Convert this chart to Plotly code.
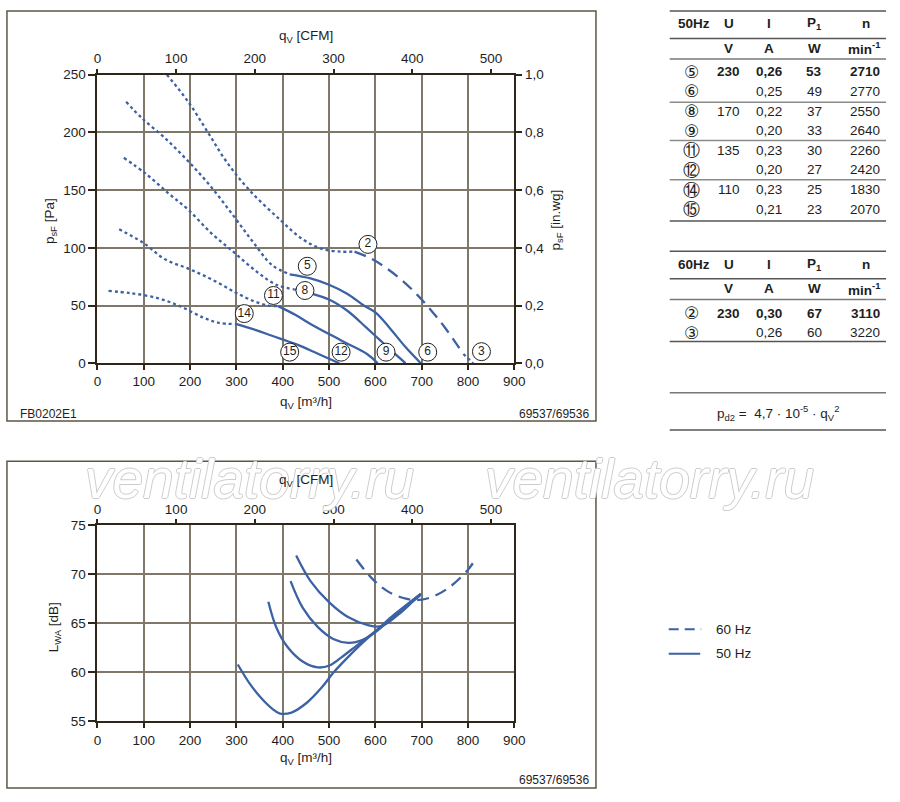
import plotly.graph_objects as go

# ---- air performance, q in m3/h, p in Pa ----
c5_dot_q = [62, 97, 146, 196, 245, 295, 336, 377, 415]
c5_dot_p = [226.5, 212, 195, 175, 153, 127, 105, 85, 77]
c5_q = [415, 460, 500, 540, 575, 600, 630, 665, 698]
c5_p = [77, 73.5, 68, 60, 50, 44, 31, 14, 0]

c8_dot_q = [57, 105, 154, 196, 245, 295, 345, 386, 425]
c8_dot_p = [178, 164, 147, 133, 113, 96, 79, 68, 64]
c8_q = [425, 460, 501, 541, 580, 610, 640, 665]
c8_p = [64, 60.7, 55, 45, 31, 20, 9, 0]

c11_dot_q = [47, 98, 146, 196, 245, 295, 336, 369, 390]
c11_dot_p = [116, 104.6, 90, 82, 73, 62, 54, 50, 49.5]
c11_q = [390, 427, 460, 501, 541, 582, 605]
c11_p = [49.5, 42, 34, 25, 16.7, 8, 0]

c14_dot_q = [24, 72, 130, 179, 229, 262, 298]
c14_dot_p = [62.6, 60.7, 56.4, 49.3, 39.4, 35, 34]
c14_q = [298, 336, 377, 427, 476, 522]
c14_p = [34, 29.5, 23.8, 16.7, 8.2, 0]

c2_dot_q = [150, 196, 237, 278, 328, 394, 443, 485, 526, 555]
c2_dot_p = [250, 226.5, 201, 175, 150, 124.4, 107.4, 99, 96.7, 96.7]
c2_q = [555, 592, 625, 660, 691, 720, 750, 790]
c2_p = [96.7, 90.4, 82, 71, 59, 46, 31, 8]
c2_end_q = [790, 811]
c2_end_p = [8, 0]

label_q = [584, 829, 453, 713, 448, 623, 380, 526, 317, 415]
label_p = [103, 10, 84, 9.6, 63, 9.6, 58.7, 9.6, 43, 9.6]
label_txt = ["2", "3", "5", "6", "8", "9", "11", "12", "14", "15"]

# ---- sound power, q in m3/h, LWA in dB ----
n5_q = [429, 460, 501, 542, 584, 613, 650, 683, 698]
n5_l = [71.9, 69.3, 67.1, 65.6, 64.8, 64.7, 65.9, 67.3, 67.9]
n8_q = [417, 443, 476, 509, 542, 567, 600, 641, 698]
n8_l = [69.3, 66.6, 64.6, 63.4, 63.0, 63.2, 64.1, 65.8, 68.0]
n11_q = [369, 386, 410, 443, 476, 501, 526, 559, 600, 641, 698]
n11_l = [67.2, 64.6, 62.6, 61.1, 60.5, 60.7, 61.5, 62.7, 64.2, 65.9, 68.0]
n14_q = [303, 328, 353, 377, 394, 419, 452, 485, 510, 542, 584, 625, 658, 698]
n14_l = [60.8, 58.9, 57.4, 56.3, 55.8, 55.9, 56.9, 58.5, 60.0, 61.6, 63.5, 65.1, 66.4, 68.0]
n2_q = [559, 592, 625, 666, 700, 733, 766, 799, 813]
n2_l = [71.5, 69.6, 68.3, 67.5, 67.4, 67.9, 68.9, 70.4, 71.3]

# ---- tables ----
tab50_rows = [
    ["⑤", "230", "0,26", "53", "2710"],
    ["⑥", "", "0,25", "49", "2770"],
    ["⑧", "170", "0,22", "37", "2550"],
    ["⑨", "", "0,20", "33", "2640"],
    ["⑪", "135", "0,23", "30", "2260"],
    ["⑫", "", "0,20", "27", "2420"],
    ["⑭", "110", "0,23", "25", "1830"],
    ["⑮", "", "0,21", "23", "2070"],
]
tab60_rows = [
    ["②", "230", "0,30", "67", "3110"],
    ["③", "", "0,26", "60", "3220"],
]
head_units = ["V", "A", "W", "min<sup>-1</sup>"]

CFM = 1.699  # m3/h per CFM
BLUE = "#3c62a3"
DARK = "#2e2618"
GRID = "#7f7768"
TXT = "#1e1e1e"
FONT = "Liberation Sans, Arial, sans-serif"
SYM = "DejaVu Sans"


def px(x):
    return x / 900


def py(y):
    return 1 - y / 802


fig = go.Figure()


def add_line(q, v, xa, ya, dash):
    fig.add_trace(go.Scatter(x=q, y=v, xaxis=xa, yaxis=ya, mode="lines",
                             line=dict(color=BLUE, width=2.3, dash=dash, shape="spline"),
                             showlegend=False, hoverinfo="skip"))


for q, p in [(c5_dot_q, c5_dot_p), (c8_dot_q, c8_dot_p), (c11_dot_q, c11_dot_p),
             (c14_dot_q, c14_dot_p), (c2_dot_q, c2_dot_p), (c2_end_q, c2_end_p)]:
    add_line(q, p, "x", "y", "dot")
for q, p in [(c5_q, c5_p), (c8_q, c8_p), (c11_q, c11_p), (c14_q, c14_p)]:
    add_line(q, p, "x", "y", "solid")
add_line(c2_q, c2_p, "x", "y", "12px,7px")

for q, l in [(n5_q, n5_l), (n8_q, n8_l), (n11_q, n11_l), (n14_q, n14_l)]:
    add_line(q, l, "x3", "y3", "solid")
add_line(n2_q, n2_l, "x3", "y3", "12px,7px")

# circled curve numbers
fig.add_trace(go.Scatter(x=label_q, y=label_p, xaxis="x", yaxis="y", mode="markers+text",
                         text=label_txt, textposition="middle center",
                         textfont=dict(family=FONT, size=12, color=TXT),
                         marker=dict(symbol="circle", size=18, color="white",
                                     line=dict(color="#222222", width=1)),
                         showlegend=False, hoverinfo="skip"))

# empty traces so the secondary scales get drawn
for xa, ya in [("x2", "y2"), ("x4", "y3")]:
    fig.add_trace(go.Scatter(x=[0], y=[0], xaxis=xa, yaxis=ya, mode="markers",
                             marker=dict(opacity=0), showlegend=False, hoverinfo="skip"))

tick_font = dict(family=FONT, size=13.5, color=TXT)
xdom = [px(95), px(519)]

main_x = dict(domain=xdom, range=[0, 900], tickvals=list(range(0, 1000, 100)),
              ticks="outside", ticklen=5, tickcolor=DARK, tickwidth=1.5,
              showgrid=True, gridcolor=GRID, gridwidth=1.5,
              showline=True, linecolor=DARK, linewidth=2, mirror=True,
              zeroline=False, tickfont=tick_font)
cfm_x = dict(range=[0, 900 / CFM], tickvals=list(range(0, 600, 100)), side="top",
             ticks="outside", ticklen=5, tickcolor=DARK, tickwidth=1.5,
             showgrid=False, showline=False, zeroline=False, tickfont=tick_font)

fig.update_layout(
    width=900, height=802, margin=dict(l=0, r=0, t=0, b=0),
    paper_bgcolor="white", plot_bgcolor="white",
    xaxis=dict(main_x, anchor="y"),
    yaxis=dict(domain=[py(363), py(69)], range=[0, 250], tickvals=list(range(0, 300, 50)),
               ticks="outside", ticklen=7, tickcolor=DARK, tickwidth=1.5,
               showgrid=True, gridcolor=GRID, gridwidth=1.5,
               showline=True, linecolor=DARK, linewidth=2, mirror=True,
               zeroline=False, tickfont=tick_font, anchor="x"),
    xaxis2=dict(cfm_x, overlaying="x", anchor="y"),
    yaxis2=dict(range=[0, 1.0], tickvals=[0, 0.2, 0.4, 0.6, 0.8, 1.0],
                ticktext=["0,0", "0,2", "0,4", "0,6", "0,8", "1,0"],
                overlaying="y", side="right", anchor="x",
                ticks="outside", ticklen=7, tickcolor=DARK, tickwidth=1.5,
                showgrid=False, showline=False, zeroline=False, tickfont=tick_font),
    xaxis3=dict(main_x, anchor="y3"),
    yaxis3=dict(domain=[py(728), py(528)], range=[55, 75], tickvals=list(range(55, 80, 5)),
                ticks="outside", ticklen=7, tickcolor=DARK, tickwidth=1.5,
                showgrid=True, gridcolor=GRID, gridwidth=1.5,
                showline=True, linecolor=DARK, linewidth=2, mirror=True,
                zeroline=False, tickfont=tick_font, anchor="x3"),
    xaxis4=dict(cfm_x, overlaying="x3", anchor="y3"),
)

ann = []
shapes = []

# watermark
wm_font = dict(family="Liberation Sans", size=55, color="white",
               shadow="1px 0 0 #cdcdcd, -1px 0 0 #cdcdcd, 0 1px 0 #cdcdcd, 0 -1px 0 #cdcdcd")
for x0 in [80, 487]:
    ann.append(dict(text="<i>ventilatorry.ru</i>", x=px(x0), y=py(481), xref="paper", yref="paper",
                    xanchor="left", yanchor="middle", showarrow=False, font=wm_font))


def txt(text, x, y, xanchor="center", size=13.5, angle=0, family=FONT, bold=False):
    if bold:
        text = "<b>" + text + "</b>"
    ann.append(dict(text=text, x=px(x), y=py(y), xref="paper", yref="paper",
                    xanchor=xanchor, yanchor="middle", showarrow=False, textangle=angle,
                    font=dict(family=family, size=size, color=TXT)))


# axis titles
txt("q<sub>V</sub> [CFM]", 307, 30)
txt("q<sub>V</sub> [m³/h]", 307, 403)
txt("p<sub>sF</sub> [Pa]", 48, 218, angle=-90)
txt("p<sub>sF</sub> [in.wg]", 562, 217, angle=-90)
txt("FB0202E1", 14, 415, xanchor="left", size=12)
txt("69537/69536", 597, 415, xanchor="right", size=12)
txt("q<sub>V</sub> [CFM]", 307, 483)
txt("q<sub>V</sub> [m³/h]", 307, 766)
txt("L<sub>WA</sub> [dB]", 51, 632, angle=-90)
txt("69537/69536", 597, 788, xanchor="right", size=12)

# frames
for y0, y1 in [(4, 422), (463, 796)]:
    shapes.append(dict(type="rect", xref="paper", yref="paper", x0=px(3), x1=px(602),
                       y0=py(y1), y1=py(y0), line=dict(color="#5e5546", width=1.5)))

# tables
col_x = [699, 737, 778, 824, 893]
col_anchor = ["center", "center", "center", "center", "right"]


def hline(y, color="#6a6a6a", w=1.5):
    shapes.append(dict(type="line", xref="paper", yref="paper", x0=px(677), x1=px(897),
                       y0=py(y), y1=py(y), line=dict(color=color, width=w)))


def header(label, y_top):
    txt(label, 683, y_top + 13, xanchor="left", bold=True)
    for i, h in enumerate(["U", "I", "P<sub>1</sub>"]):
        txt(h, col_x[i + 1], y_top + 13, bold=True)
    txt("n", 877, y_top + 13, bold=True)
    for i, h in enumerate(head_units):
        txt(h, col_x[i + 1], y_top + 38, xanchor=col_anchor[i + 1], bold=True)
    hline(y_top, "#555555")
    hline(y_top + 28, "#555555")
    hline(y_top + 49, "#777777")


def rows(data, y_first):
    for r, row in enumerate(data):
        y = y_first + 20 * r
        for c, val in enumerate(row):
            if not val:
                continue
            if c == 0:
                txt(val, col_x[c], y, family=SYM, size=17)
            else:
                txt(val, col_x[c], y, xanchor=col_anchor[c], bold=(r == 0))


header("50Hz", 4)
rows(tab50_rows, 66)
for y in [97, 136, 176]:
    hline(y, "#8a8a8a")
hline(218, "#555555")

header("60Hz", 249)
rows(tab60_rows, 312)
hline(341, "#555555")

hline(393, "#777777")
txt("p<sub>d2</sub> =  4,7 · 10<sup>-5</sup> · q<sub>V</sub><sup>2</sup>", 787, 414)
hline(431, "#555555")

# legend
shapes.append(dict(type="line", xref="paper", yref="paper", x0=px(676), x1=px(709),
                   y0=py(634), y1=py(634), line=dict(color=BLUE, width=2, dash="10px,6px")))
shapes.append(dict(type="line", xref="paper", yref="paper", x0=px(676), x1=px(708),
                   y0=py(659), y1=py(659), line=dict(color=BLUE, width=2)))
txt("60 Hz", 722, 634, xanchor="left")
txt("50 Hz", 722, 659, xanchor="left")

fig.update_layout(annotations=ann, shapes=shapes)
fig.write_html("out.html", config={"displayModeBar": False},
               post_script="document.body.style.margin='0px';"
                           "document.body.style.overflow='hidden';")
